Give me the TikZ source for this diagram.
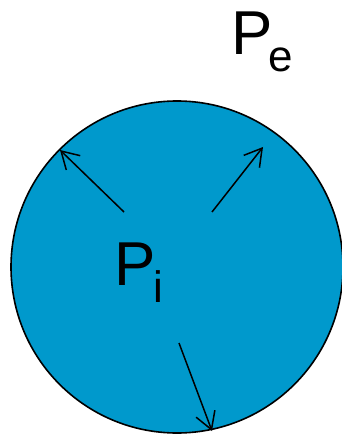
\documentclass[tikz,border=0pt]{standalone}
\usepackage{fontspec}
\setmainfont{Liberation Sans}
\usetikzlibrary{arrows.meta}
\definecolor{cellblue}{RGB}{0,153,204}
\begin{document}
\begin{tikzpicture}[
    x=1pt, y=-1pt,
    cell/.style={circle, draw, line width=1.6pt, fill=cellblue,
                 minimum size=332pt, inner sep=0pt},
    arrow/.style={-{Straight Barb[length=17pt, width=20pt]}, line width=1.5pt},
    lbl/.style={font=\fontsize{62}{62}\selectfont, inner sep=0pt, anchor=base west},
]
    \useasboundingbox (0,0) rectangle (341,435);

    % Cell
    \node[cell] (cell) at (177,267) {};

    % Pressures
    \node[lbl] (pe) at (231,55) {P\kern-4pt\raisebox{-17pt}{\fontsize{44}{44}\selectfont e}};
    \node[lbl] (pi) at (114,285) {P\kern-2pt\raisebox{-17pt}{\fontsize{44}{44}\selectfont i}};

    % Arrow ends
    \coordinate (a1) at (124,212);  \coordinate (b1) at (60,150);
    \coordinate (a2) at (212,212);  \coordinate (b2) at (263,147);
    \coordinate (a3) at (179,343);  \coordinate (b3) at (212,431);

    % Arrows
    \draw[arrow] (a1) -- (b1);
    \draw[arrow] (a2) -- (b2);
    \draw[arrow] (a3) -- (b3);
\end{tikzpicture}
\end{document}
